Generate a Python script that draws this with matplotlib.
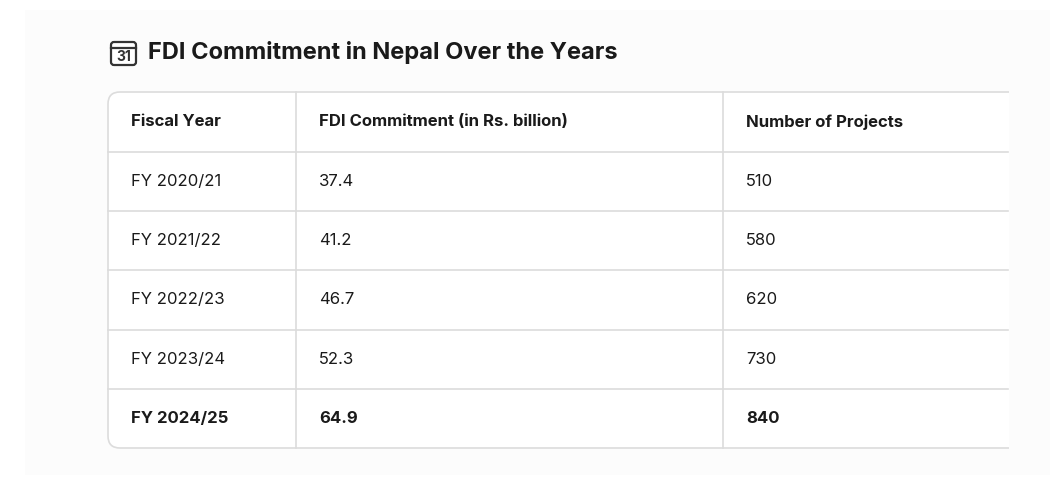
import matplotlib
matplotlib.use("Agg")
import matplotlib.pyplot as plt
from matplotlib.patches import FancyBboxPatch, Rectangle

title = "FDI Commitment in Nepal Over the Years"
headers = ["Fiscal Year", "FDI Commitment (in Rs. billion)", "Number of Projects"]
years = ["FY 2020/21", "FY 2021/22", "FY 2022/23", "FY 2023/24", "FY 2024/25"]
fdi = ["37.4", "41.2", "46.7", "52.3", "64.9"]
projects = ["510", "580", "620", "730", "840"]

W, H = 1050, 500
fig = plt.figure(figsize=(W/100, H/100), dpi=100)
fig.patch.set_facecolor("white")
ax = fig.add_axes([0, 0, 1, 1])
ax.set_xlim(0, W); ax.set_ylim(H, 0); ax.axis("off")

PANEL = "#fcfcfc"
ax.add_patch(Rectangle((25, 10), 1025, 465, facecolor=PANEL, edgecolor="none"))

FONT = "Inter"
ax.add_patch(FancyBboxPatch((111, 42), 25, 23, boxstyle="round,pad=0,rounding_size=3",
                            facecolor="white", edgecolor="#333333", lw=1.6))
ax.plot([111, 136], [48, 48], color="#333333", lw=1.6)
ax.text(123.5, 57, "31", ha="center", va="center", fontsize=10, fontweight="bold",
        family=FONT, color="#333333")
ax.text(148, 53, title, ha="left", va="center", fontsize=17, fontweight="bold",
        family=FONT, color="#1a1a1a")

left, right, top, bottom = 108, 1008, 92, 448
cols = [108, 296, 723, 1008]
rows = [92, 152, 211, 270, 330, 389, 448]
line = "#dcdcdc"
ax.add_patch(FancyBboxPatch((left, top), 940, bottom - top,
                            boxstyle="round,pad=0,rounding_size=12",
                            facecolor="white", edgecolor=line, lw=1.2))
ax.add_patch(Rectangle((1008.5, 85), 50, 370, facecolor=PANEL, edgecolor="none"))
for y in rows[1:-1]:
    ax.plot([left, right], [y, y], color=line, lw=1.2)
for x in cols[1:3]:
    ax.plot([x, x], [top, bottom], color=line, lw=1.2)

pad = 23
for j, h in enumerate(headers):
    ax.text(cols[j] + pad, (rows[0] + rows[1]) / 2, h, ha="left", va="center",
            fontsize=12, fontweight="bold", family=FONT, color="#1a1a1a")
for i in range(len(years)):
    yc = (rows[i + 1] + rows[i + 2]) / 2
    bold = "bold" if i == len(years) - 1 else "normal"
    for j, v in enumerate([years[i], fdi[i], projects[i]]):
        ax.text(cols[j] + pad, yc, v, ha="left", va="center", fontsize=12,
                fontweight=bold, family=FONT, color="#1a1a1a")

fig.savefig("out.png", dpi=100, facecolor="white")
